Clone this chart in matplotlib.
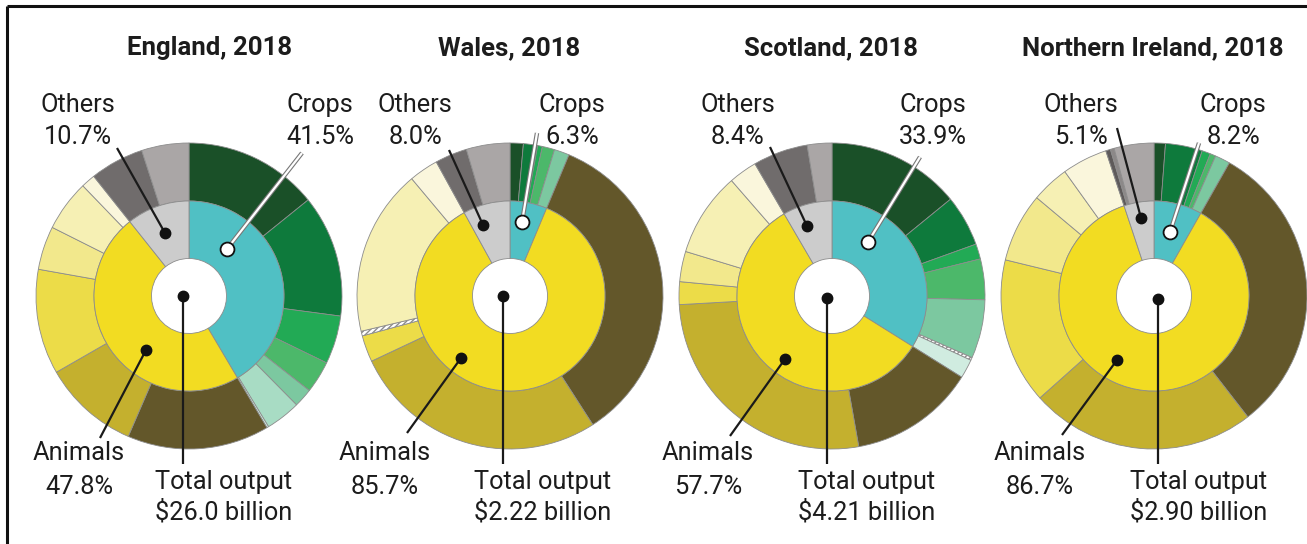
import matplotlib
matplotlib.use("Agg")
import matplotlib.pyplot as plt

plt.rcParams["font.family"] = ["Roboto", "DejaVu Sans"]

# ---- data (percent of total output) ----
regions = ["England", "Wales", "Scotland", "Northern Ireland"]
totals = ["$26.0 billion", "$2.22 billion", "$4.21 billion", "$2.90 billion"]
crops_pct = [41.5, 6.3, 33.9, 8.2]
animals_pct = [47.8, 85.7, 57.7, 86.7]
others_pct = [10.7, 8.0, 8.4, 5.1]

crops_parts = [
    [14.2, 12.9, 5.1, 3.4, 2.0, 3.7, 0.2],
    [1.4, 1.5, 0.5, 1.3, 1.6],
    [14.1, 5.4, 1.6, 4.3, 6.2, 0.3, 2.0],
    [1.2, 3.9, 0.9, 0.6, 1.6],
]
animals_parts = [
    [15.0, 10.2, 11.1, 4.6, 5.4, 1.5],
    [34.6, 27.1, 2.8, 0.5, 17.6, 3.1],
    [13.3, 26.9, 2.4, 3.2, 8.9, 3.0],
    [31.3, 23.9, 15.4, 7.3, 4.0, 4.8],
]
others_parts = [
    [5.7, 5.0],
    [3.4, 4.6],
    [5.8, 2.6],
    [0.5, 0.4, 4.2],
]

# ---- styles ----
C_CROPS, C_ANIM, C_OTH = "#50c0c4", "#f2dc22", "#cccccc"
crop_cols = [
    ["#1a5028", "#0e7a3c", "#22aa55", "#4cb86a", "#7cc8a0", "#a8dcc4", "#d0ece0"],
    ["#1a5028", "#0e7a3c", "#22aa55", "#4cb86a", "#7cc8a0"],
    ["#1a5028", "#0e7a3c", "#22aa55", "#4cb86a", "#7cc8a0", "hatch", "#d0ece0"],
    ["#1a5028", "#0e7a3c", "#22aa55", "#4cb86a", "#7cc8a0"],
]
anim_cols = [
    ["#63572a", "#c4b02e", "#ecdc48", "#f2e88c", "#f6f0b4", "#faf6dc"],
    ["#63572a", "#c4b02e", "#ecdc48", "hatch", "#f6f0b4", "#faf6dc"],
    ["#63572a", "#c4b02e", "#ecdc48", "#f2e88c", "#f6f0b4", "#faf6dc"],
    ["#63572a", "#c4b02e", "#ecdc48", "#f2e88c", "#f6f0b4", "#faf6dc"],
]
oth_cols = [
    ["#706c6c", "#aaa6a6"],
    ["#706c6c", "#aaa6a6"],
    ["#706c6c", "#aaa6a6"],
    ["#5e5a5a", "#8c8888", "#aaa6a6"],
]

W, H = 1307, 544
CX = [189, 510, 832, 1154]
CY = 296
R_OUT, R_MID, R_HOLE = 153, 95, 37.5
TITLE_X = [210, 509, 831, 1153]
# label centres (image px, y down): others, crops, animals, total
LBL_X = [(78, 320, 79, 224), (415, 572, 385, 543),
         (738, 933, 708, 867), (1081, 1233, 1040, 1199)]
# leader lines as offsets from centre (start, dot)
LEAD = [
    dict(o=((-72, -148), (-24, -63)), c=((113, -143), (38, -47)),
         a=((-89, 142), (-43, 54)), t=((-6, 168), (-6, 0))),
    dict(o=((-61, -146), (-27, -71)), c=((27, -163), (12, -74)),
         a=((-103, 137), (-49, 62)), t=((-7, 168), (-7, 0))),
    dict(o=((-62, -149), (-25, -70)), c=((88, -139), (36, -54)),
         a=((-102, 140), (-47, 63)), t=((-5, 168), (-5, 2))),
    dict(o=((-37, -168), (-13, -78)), c=((45, -153), (16, -64)),
         a=((-92, 139), (-37, 64)), t=((4, 168), (4, 3))),
]
TXT = "#1c1c1c"
EDGE = "#8c8c8c"
FS = 18.3

fig = plt.figure(figsize=(W / 100, H / 100), dpi=100)
ax = fig.add_axes([0, 0, 1, 1])


def Y(y):
    return H - y


for i, name in enumerate(regions):
    cx, cy = CX[i], Y(CY)
    outer_vals = crops_parts[i] + animals_parts[i] + others_parts[i]
    outer_cols = crop_cols[i] + anim_cols[i] + oth_cols[i]
    face = ["white" if c == "hatch" else c for c in outer_cols]
    wedges, _ = ax.pie(outer_vals, colors=face, radius=R_OUT, center=(cx, cy),
                       startangle=90, counterclock=False, normalize=True,
                       wedgeprops=dict(width=R_OUT - R_MID, edgecolor=EDGE, linewidth=0.6))
    for w, c in zip(wedges, outer_cols):
        if c == "hatch":
            w.set_hatch("//////")
    ax.pie([crops_pct[i], animals_pct[i], others_pct[i]],
           colors=[C_CROPS, C_ANIM, C_OTH], radius=R_MID, center=(cx, cy),
           startangle=90, counterclock=False, normalize=True,
           wedgeprops=dict(width=R_MID - R_HOLE, edgecolor=EDGE, linewidth=0.6))

    ax.text(TITLE_X[i], Y(48), f"{name}, 2018", ha="center", va="center",
            fontsize=18.5, fontweight="bold", color=TXT)

    ox, crx, anx, tox = LBL_X[i]
    ax.text(ox, Y(105), "Others", ha="center", va="center", fontsize=FS, color=TXT)
    ax.text(ox, Y(137), f"{others_pct[i]:.1f}%", ha="center", va="center", fontsize=FS, color=TXT)
    ax.text(crx, Y(105), "Crops", ha="center", va="center", fontsize=FS, color=TXT)
    ax.text(crx, Y(137), f"{crops_pct[i]:.1f}%", ha="center", va="center", fontsize=FS, color=TXT)
    ax.text(anx, Y(453), "Animals", ha="center", va="center", fontsize=FS, color=TXT)
    ax.text(anx, Y(487), f"{animals_pct[i]:.1f}%", ha="center", va="center", fontsize=FS, color=TXT)
    ax.text(tox, Y(482), "Total output", ha="center", va="center", fontsize=FS, color=TXT)
    ax.text(tox, Y(512), totals[i], ha="center", va="center", fontsize=FS, color=TXT)

    ld = LEAD[i]
    for key in ("o", "a", "t"):
        (sx, sy), (dx, dy) = ld[key]
        ax.plot([CX[i] + sx, CX[i] + dx], [Y(CY + sy), Y(CY + dy)],
                color="#1a1a1a", lw=1.6, solid_capstyle="butt", zorder=5)
        ax.plot(CX[i] + dx, Y(CY + dy), "o", ms=7.5, color="#111111", zorder=6)
    (sx, sy), (dx, dy) = ld["c"]
    ax.plot([CX[i] + sx, CX[i] + dx], [Y(CY + sy), Y(CY + dy)],
            color="#777777", lw=3.2, solid_capstyle="butt", zorder=5)
    ax.plot([CX[i] + sx, CX[i] + dx], [Y(CY + sy), Y(CY + dy)],
            color="white", lw=1.6, solid_capstyle="butt", zorder=5)
    ax.plot(CX[i] + dx, Y(CY + dy), "o", ms=10, mfc="white", mec="#111111",
            mew=1.3, zorder=6)

# frame lines (top and left)
ax.plot([7, W], [Y(6), Y(6)], color="#111111", lw=2.2, solid_capstyle="butt")
ax.plot([7, 7], [Y(6), 0], color="#111111", lw=2.2, solid_capstyle="butt")

ax.set_xlim(0, W)
ax.set_ylim(0, H)
ax.set_aspect("equal")
ax.axis("off")

fig.savefig("out.png", dpi=100, facecolor="white")
